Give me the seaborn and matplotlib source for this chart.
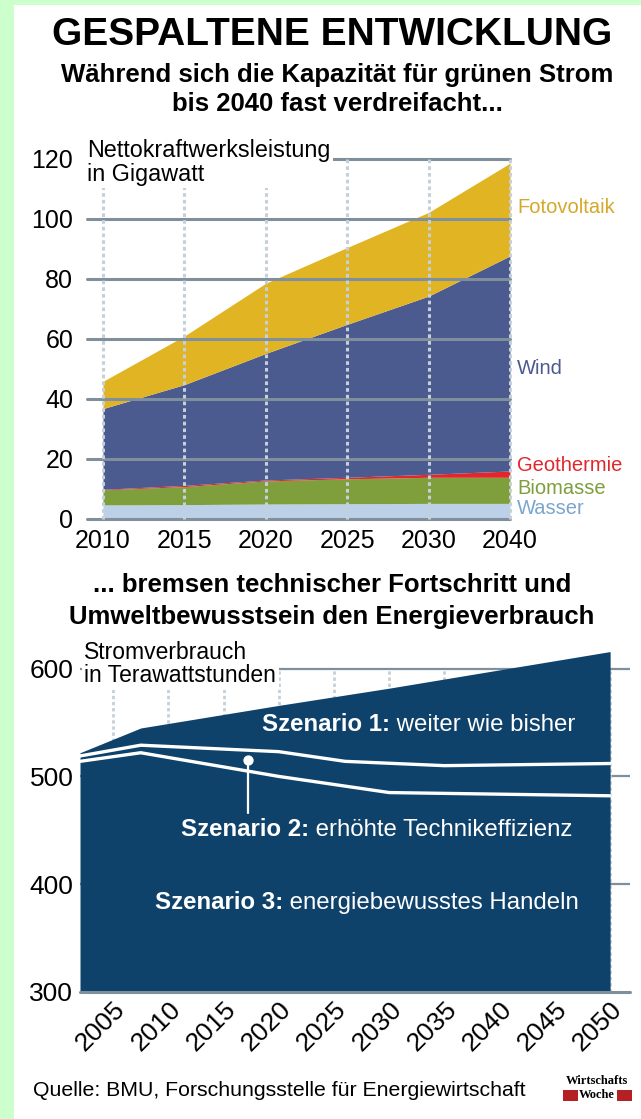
import numpy as np
import seaborn as sns
import matplotlib.pyplot as plt
from matplotlib.patches import Rectangle

# obere Grafik: Nettokraftwerksleistung in Gigawatt
jahre_oben = ['2010', '2015', '2020', '2025', '2030', '2040']
wasser = [4.7, 4.8, 5.0, 5.1, 5.2, 5.2]
biomasse = [5.0, 6.0, 7.7, 8.3, 8.7, 8.7]
geothermie = [0.2, 0.4, 0.3, 0.5, 1.0, 2.1]
wind = [26.9, 33.6, 42.2, 51.0, 59.4, 71.7]
fotovoltaik = [9.1, 16.2, 23.4, 25.6, 27.9, 30.9]
quellen = ['Wasser', 'Biomasse', 'Geothermie', 'Wind', 'Fotovoltaik']

# untere Grafik: Stromverbrauch in Terawattstunden
jahre_s1 = [2002, 2007.5, 2020, 2030, 2040, 2050]
szenario1 = [522, 545, 566, 582, 599, 616]
jahre_s2 = [2002, 2007.5, 2020, 2026, 2035, 2050]
szenario2 = [519, 529, 523, 514, 510, 512]
jahre_s3 = [2002, 2007.5, 2020, 2030, 2050]
szenario3 = [514, 522, 500, 485, 482]
jahre_unten = list(range(2005, 2051, 5))

sns.set_style('white')
plt.rcParams['font.family'] = ['Liberation Sans', 'DejaVu Sans']
plt.rcParams['text.color'] = 'black'
plt.rcParams['xtick.labelcolor'] = 'black'
plt.rcParams['ytick.labelcolor'] = 'black'

farben = ['#bcd0e8', '#7f9e3c', '#e3262b', '#4b5a8f', '#e1b424']
textfarben = ['#7ba6cc', '#7f9e3c', '#e3262b', '#4b5a8f', '#d4a82a']
gitter = '#7f909c'
gestrichelt = '#c6d0d8'
navy = '#0f426b'

W, H = 641, 1119
fig = plt.figure(figsize=(W / 100, H / 100), dpi=100)
fig.patch.set_facecolor('#ccffcc')
fig.add_artist(Rectangle((14 / W, 0), 1, 1 - 5 / H, transform=fig.transFigure,
                         facecolor='white', edgecolor='none', zorder=-5))

# Überschriften
fig.text(332 / W, 1 - 35 / H, 'GESPALTENE ENTWICKLUNG', ha='center', va='center',
         fontsize=28, fontweight='bold')
fig.text(337 / W, 1 - 75 / H, 'Während sich die Kapazität für grünen Strom', ha='center',
         va='center', fontsize=18.5, fontweight='bold')
fig.text(337 / W, 1 - 104 / H, 'bis 2040 fast verdreifacht...', ha='center',
         va='center', fontsize=18.5, fontweight='bold')
fig.text(332 / W, 1 - 585 / H, '... bremsen technischer Fortschritt und', ha='center',
         va='center', fontsize=18.5, fontweight='bold')
fig.text(332 / W, 1 - 617 / H, 'Umweltbewusstsein den Energieverbrauch', ha='center',
         va='center', fontsize=18.5, fontweight='bold')

# ---- obere Grafik ----
ax1 = fig.add_axes([86.7 / W, 1 - 519 / H, 423.3 / W, (519 - 153) / H])
x = np.arange(len(jahre_oben))
ax1.stackplot(x, wasser, biomasse, geothermie, wind, fotovoltaik, colors=farben,
              linewidth=0, zorder=2)
ax1.set_xlim(-0.2, 5)
ax1.set_ylim(0, 122)
for v in range(0, 121, 20):
    ax1.axhline(v, color=gitter, lw=2.2, zorder=3, clip_on=False)
ax1.vlines(x, 0, 120, colors=gestrichelt, lw=2.2, linestyles=[(0, (1.2, 1.0))],
           zorder=4, clip_on=False)
ax1.set_xticks(x, jahre_oben)
ax1.set_yticks(range(0, 121, 20))
ax1.tick_params(axis='x', length=0, pad=7, labelsize=18)
ax1.tick_params(axis='y', length=0, pad=9.6, labelsize=18)
sns.despine(ax=ax1, left=True, bottom=True)
ax1.grid(False)

ax1.text(-0.2, 126.5, 'Nettokraftwerksleistung\nin Gigawatt', ha='left', va='top',
         fontsize=16.8, linespacing=1.0, zorder=6,
         bbox=dict(facecolor='white', edgecolor='none', pad=2))

label_y = [3.6, 10.2, 17.7, 50.3, 103.7]
for name, yy, c in zip(quellen, label_y, textfarben):
    ax1.text(5.09, yy, name, color=c, fontsize=14.5, ha='left', va='center')

# ---- untere Grafik ----
ax2 = fig.add_axes([80 / W, 1 - 991.7 / H, 550 / W, (991.7 - 649.4) / H])
ax2.set_xlim(2002, 2051.8)
ax2.set_ylim(300, 618)
for v in [400, 500, 600]:
    ax2.axhline(v, color=gitter, lw=1.6, zorder=1)
ax2.axhline(300, color=gitter, lw=2.2, zorder=3, clip_on=False)
ax2.vlines(jahre_unten, 300, 600, colors=gestrichelt, lw=2.0,
           linestyles=[(0, (1.2, 1.0))], zorder=1.5, clip_on=False)
ax2.fill_between(jahre_s1, 300, szenario1, color=navy, lw=0, zorder=2)
sns.lineplot(x=jahre_s2, y=szenario2, color='white', lw=2.4, ax=ax2, zorder=3)
sns.lineplot(x=jahre_s3, y=szenario3, color='white', lw=2.4, ax=ax2, zorder=3)

ax2.set_xticks(jahre_unten)
ax2.set_xticklabels([str(j) for j in jahre_unten], rotation=45, ha='right',
                    va='top', rotation_mode='anchor')
ax2.set_yticks([300, 400, 500, 600])
ax2.tick_params(axis='x', length=7, width=2, color=gestrichelt, pad=-3, labelsize=19)
ax2.tick_params(axis='y', length=0, pad=4.8, labelsize=19)
sns.despine(ax=ax2, left=True, bottom=True)
ax2.grid(False)
ax2.set_xlabel('')
ax2.set_ylabel('')

ax2.text(2002.4, 626, 'Stromverbrauch\nin Terawattstunden', ha='left', va='top',
         fontsize=16.5, linespacing=1.0, zorder=6,
         bbox=dict(facecolor='white', edgecolor='none', pad=2))

# Zeiger für Szenario 2
ax2.plot([2017.2, 2017.2], [515, 466], color='white', lw=1.6, zorder=4)
ax2.scatter([2017.2], [515], s=55, color='white', zorder=5, linewidths=0)


def zweiteilig(xx, yy, fett, normal):
    t = ax2.text(xx, yy, fett, color='white', fontsize=17.3, fontweight='bold',
                 ha='left', va='center', zorder=6)
    ax2.annotate(normal, xy=(1, 0), xycoords=t, ha='left', va='bottom',
                 color='white', fontsize=17.3, zorder=6)


zweiteilig(2018.5, 547.8, 'Szenario 1:', ' weiter wie bisher')
zweiteilig(2011.1, 451, 'Szenario 2:', ' erhöhte Technikeffizienz')
zweiteilig(2008.8, 382.5, 'Szenario 3:', ' energiebewusstes Handeln')

# Quelle und Logo
fig.text(33 / W, 1 - 1090 / H, 'Quelle: BMU, Forschungsstelle für Energiewirtschaft',
         ha='left', va='center', fontsize=15.3)
fig.text(597 / W, 1 - 1081 / H, 'Wirtschafts', ha='center', va='center', fontsize=9,
         fontweight='bold', family=['Liberation Serif', 'DejaVu Serif'])
fig.text(597 / W, 1 - 1095 / H, 'Woche', ha='center', va='center', fontsize=9,
         fontweight='bold', family=['Liberation Serif', 'DejaVu Serif'])
for x0 in [563, 617]:
    fig.add_artist(Rectangle((x0 / W, 1 - 1101 / H), 15 / W, 11 / H,
                             transform=fig.transFigure, facecolor='#b52025',
                             edgecolor='none'))

fig.savefig('out.png', dpi=100)
